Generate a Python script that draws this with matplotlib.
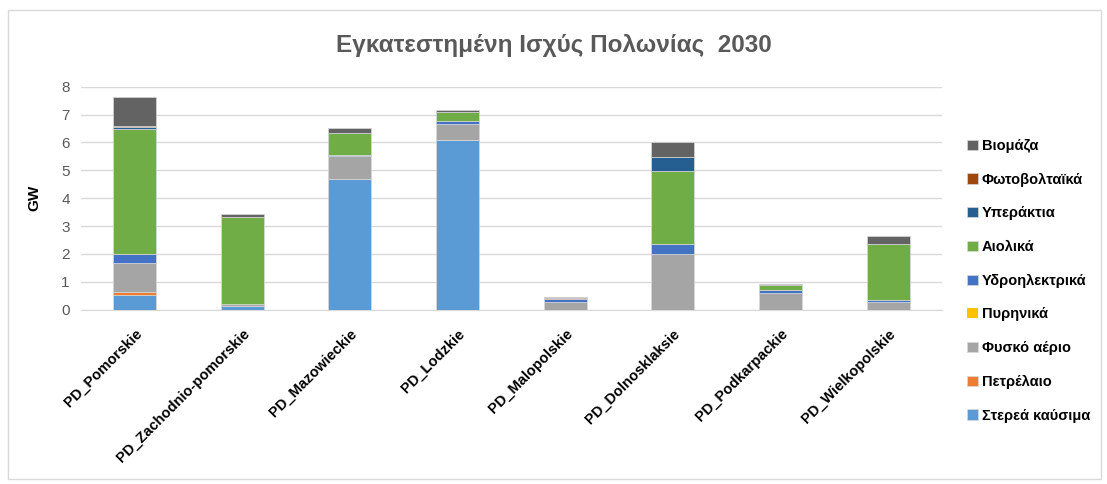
import matplotlib
matplotlib.use('Agg')
import matplotlib.pyplot as plt
from matplotlib.patches import Rectangle
import numpy as np

plt.rcParams['font.family'] = ['Liberation Sans', 'DejaVu Sans']

regions = ['PD_Pomorskie', 'PD_Zachodnio-pomorskie', 'PD_Mazowieckie', 'PD_Lodzkie',
           'PD_Malopolskie', 'PD_Dolnosklaksie', 'PD_Podkarpackie', 'PD_Wielkopolskie']

# GW per technology, stacked bottom to top
solid = [0.52, 0.14, 4.70, 6.10, 0.00, 0.00, 0.00, 0.00]
oil = [0.13, 0.00, 0.00, 0.00, 0.00, 0.00, 0.00, 0.00]
gas = [1.03, 0.06, 0.83, 0.57, 0.29, 2.01, 0.61, 0.29]
nuclear = [0.00, 0.00, 0.00, 0.00, 0.00, 0.00, 0.00, 0.00]
hydro = [0.33, 0.00, 0.02, 0.08, 0.09, 0.35, 0.09, 0.05]
wind = [4.47, 3.14, 0.80, 0.35, 0.02, 2.62, 0.18, 2.02]
offshore = [0.09, 0.00, 0.00, 0.00, 0.00, 0.51, 0.00, 0.00]
pv = [0.01, 0.00, 0.00, 0.00, 0.03, 0.00, 0.00, 0.00]
biomass = [1.05, 0.09, 0.18, 0.05, 0.02, 0.53, 0.04, 0.28]

series = [
    ('Στερεά καύσιμα', solid, '#5B9BD5'),
    ('Πετρέλαιο', oil, '#ED7D31'),
    ('Φυσκό αέριο', gas, '#A5A5A5'),
    ('Πυρηνικά', nuclear, '#FFC000'),
    ('Υδροηλεκτρικά', hydro, '#4472C4'),
    ('Αιολικά', wind, '#70AD47'),
    ('Υπεράκτια', offshore, '#255E91'),
    ('Φωτοβολταϊκά', pv, '#9E480E'),
    ('Βιομάζα', biomass, '#636363'),
]

fig = plt.figure(figsize=(11.07, 4.84), dpi=100)
ax = fig.add_axes([0.073, 0.36, 0.778, 0.461])

x = np.arange(len(regions))
bottom = np.zeros(len(regions))
handles = []
for name, vals, color in series:
    vals = np.array(vals)
    lw = np.where(vals > 0, 0.5, 0.0)
    b = ax.bar(x, vals, 0.4, bottom=bottom, color=color, edgecolor='#d9d9d9',
               linewidth=lw, label=name, zorder=3)
    handles.append(b)
    bottom += vals

ax.set_xlim(-0.5, len(regions) - 0.5)
ax.set_ylim(0, 8)
ax.set_yticks(range(0, 9))
ax.yaxis.grid(True, color='#d9d9d9', linewidth=1, zorder=0)
for s in ['top', 'right', 'left']:
    ax.spines[s].set_visible(False)
ax.spines['bottom'].set_color('#d9d9d9')
ax.tick_params(axis='y', length=0, labelsize=11, labelcolor='#595959', pad=8)
ax.tick_params(axis='x', length=0, pad=12)
ax.set_xticks(x)
ax.set_xticklabels(regions, rotation=45, ha='right', rotation_mode='anchor',
                   fontsize=10.5, fontweight='bold')
ax.set_ylabel('GW', fontsize=11, fontweight='bold', labelpad=14)

fig.text(0.5, 0.905, 'Εγκατεστημένη Ισχύς Πολωνίας  2030', ha='center', va='center',
         fontsize=17.5, fontweight='bold', color='#595959')

leg = fig.legend(handles[::-1], [s[0] for s in series][::-1], loc='center left',
                 bbox_to_anchor=(0.862, 0.42), frameon=False,
                 prop={'size': 10.5, 'weight': 'bold'}, handlelength=0.7, handleheight=0.7,
                 handletextpad=0.3, labelspacing=1.35)

fig.patches.append(Rectangle((8 / 1107, 5 / 484), 1093 / 1107, 469 / 484,
                             transform=fig.transFigure, fill=False,
                             edgecolor='#d9d9d9', linewidth=1))

fig.savefig('out.png', dpi=100)
